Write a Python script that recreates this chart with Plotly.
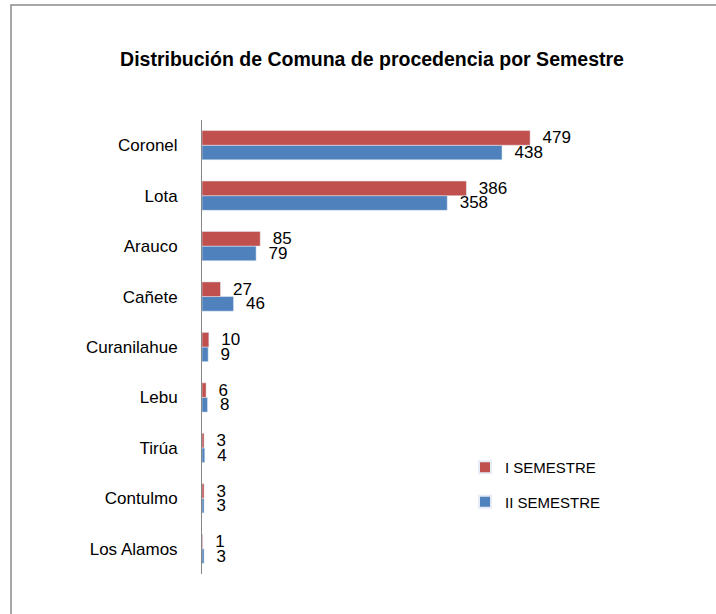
import plotly.graph_objects as go

categories = ["Coronel", "Lota", "Arauco", "Cañete", "Curanilahue", "Lebu", "Tirúa", "Contulmo", "Los Alamos"]
sem1 = [479, 386, 85, 27, 10, 6, 3, 3, 1]
sem2 = [438, 358, 79, 46, 9, 8, 4, 3, 3]
series_names = ["I SEMESTRE", "II SEMESTRE"]
title_text = "Distribución de Comuna de procedencia por Semestre"

FONT = "Liberation Sans, Arial, sans-serif"
W, H = 716, 614
L, R, T, B = 202, 103, 120, 40
pw, ph = W - L - R, H - T - B

def px_x(px):
    return (px - L) / pw

def px_y(py):
    return (H - B - py) / ph

fig = go.Figure()
fig.add_trace(go.Bar(
    y=categories, x=sem2, name=series_names[1], orientation="h",
    marker=dict(color="#4F81BD"), legendrank=2, legendgroup="g2",
    text=sem2, texttemplate="\u00a0\u00a0%{x}", textposition="outside",
    textfont=dict(family=FONT, size=17, color="#000000"),
    constraintext="none", cliponaxis=False, hoverinfo="skip",
))
fig.add_trace(go.Bar(
    y=categories, x=sem1, name=series_names[0], orientation="h",
    marker=dict(color="#C0504D"), legendrank=1, legendgroup="g1",
    text=sem1, texttemplate="\u00a0\u00a0%{x}", textposition="outside",
    textfont=dict(family=FONT, size=17, color="#000000"),
    constraintext="none", cliponaxis=False, hoverinfo="skip",
))

border_path = "M {x0},{y0} L {x0},{y1} L {x2},{y1}".format(
    x0=px_x(11), y0=px_y(640), y1=px_y(5), x2=px_x(730))

fig.update_layout(
    width=W, height=H,
    margin=dict(l=L, r=R, t=T, b=B),
    paper_bgcolor="white", plot_bgcolor="white",
    barmode="group", bargap=0.42, bargroupgap=0,
    font=dict(family=FONT, color="#000000"),
    title=dict(text="<b>" + title_text + "</b>", x=372 / W, xanchor="center",
               y=1 - 59 / H, yanchor="middle",
               font=dict(family=FONT, size=19.5, color="#000000")),
    xaxis=dict(range=[0, 600], visible=False, showgrid=False, zeroline=False),
    yaxis=dict(categoryorder="array", categoryarray=categories[::-1],
               showline=True, linecolor="#868686", linewidth=1,
               ticks="", ticklabelstandoff=20, showgrid=False,
               tickfont=dict(family=FONT, size=17, color="#000000")),
    showlegend=True,
    legend=dict(x=px_x(465), y=px_y(451), xanchor="left", yanchor="top",
                traceorder="grouped", tracegroupgap=12, itemsizing="constant",
                font=dict(family=FONT, size=15, color="#000000"),
                bgcolor="rgba(0,0,0,0)", itemwidth=30),
    shapes=[dict(type="path", xref="paper", yref="paper", path=border_path,
                 line=dict(color="#8C8C8C", width=1.5))],
)

fig.write_html("out.html", config={"displayModeBar": False},
               post_script="document.body.style.margin='0';")
